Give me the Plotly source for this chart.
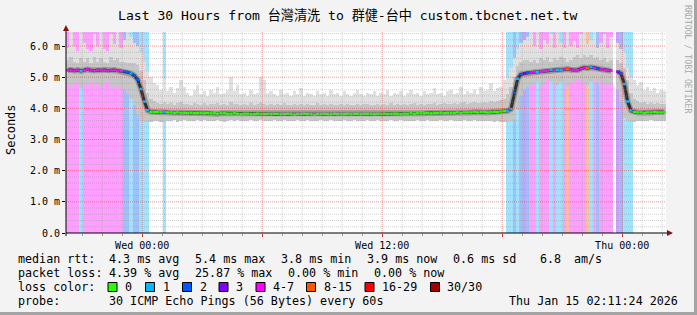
import plotly.graph_objects as go
from datetime import datetime, timedelta

# ---------------- data ----------------
START = datetime(2026, 1, 13, 20, 11, 24)
END = datetime(2026, 1, 15, 2, 11, 24)
STEP_MIN = 10

MED = [
    5.22, 5.24, 5.21, 5.23, 5.20, 5.22, 5.25, 5.22, 5.21, 5.23,
    5.22, 5.24, 5.21, 5.22, 5.23, 5.21, 5.20, 5.19, 5.16, 5.12,
    5.05, 4.92, 4.62, 4.22, 3.94, 3.89, 3.88, 3.88, 3.87, 3.88,
    3.87, 3.87, 3.86, 3.87, 3.86, 3.86, 3.85, 3.86, 3.85, 3.85,
    3.85, 3.84, 3.85, 3.84, 3.84, 3.83, 3.84, 3.84, 3.83, 3.83,
    3.84, 3.83, 3.82, 3.83, 3.83, 3.82, 3.82, 3.83, 3.82, 3.82,
    3.82, 3.81, 3.82, 3.82, 3.81, 3.81, 3.82, 3.81, 3.80, 3.81,
    3.81, 3.82, 3.81, 3.81, 3.80, 3.81, 3.81, 3.82, 3.81, 3.81,
    3.82, 3.81, 3.81, 3.81, 3.82, 3.81, 3.82, 3.82, 3.81, 3.82,
    3.82, 3.82, 3.81, 3.82, 3.82, 3.83, 3.82, 3.82, 3.83, 3.83,
    3.82, 3.83, 3.83, 3.84, 3.83, 3.84, 3.84, 3.84, 3.85, 3.84,
    3.85, 3.85, 3.86, 3.85, 3.86, 3.86, 3.86, 3.87, 3.86, 3.87,
    3.87, 3.87, 3.88, 3.87, 3.88, 3.88, 3.87, 3.88, 3.89, 3.88,
    3.90, 3.91, 3.92, 3.98, 4.50, 4.95, 5.09, 5.12, 5.14, 5.15,
    5.16, 5.17, 5.18, 5.20, 5.21, 5.23, 5.22, 5.24, 5.23, 5.25,
    5.26, 5.24, 5.22, 5.23, 5.27, 5.31, 5.29, 5.32, 5.30, 5.27,
    5.25, 5.24, 5.22, 5.21, None, 5.18, 5.12, 4.78, 4.22, 3.93,
    3.88, 3.87, 3.87, 3.86, 3.87, 3.87, 3.88, 3.87, 3.87, 3.88,
]

LOSS = [
    5, 6, 5, 4, 1, 5, 6, 5, 7, 5,
    6, 5, 4, 5, 6, 5, 5, 2, 2, 1,
    2, 2, 1, 1, 1, 0, 0, 0, 0, 1,
    0, 0, 0, 0, 0, 0, 0, 0, 0, 0,
    0, 0, 0, 0, 0, 0, 0, 0, 0, 0,
    0, 0, 0, 0, 0, 0, 0, 0, 0, 0,
    0, 0, 0, 0, 0, 0, 0, 0, 0, 0,
    0, 0, 0, 0, 0, 0, 0, 0, 0, 0,
    0, 0, 0, 0, 0, 0, 0, 0, 0, 0,
    0, 0, 0, 0, 0, 0, 0, 0, 0, 0,
    0, 0, 0, 0, 0, 0, 0, 0, 0, 0,
    0, 0, 0, 0, 0, 0, 0, 0, 0, 0,
    0, 0, 0, 0, 0, 0, 0, 0, 0, 0,
    0, 0, 1, 1, 2, 1, 2, 3, 2, 5,
    6, 1, 5, 6, 5, 1, 5, 1, 1, 5,
    8, 6, 5, 6, 5, 7, 8, 1, 6, 2,
    5, 6, 5, 5, None, 3, 2, 1, 1, 1,
    0, 0, 0, 0, 0, 0, 0, 0, 0, 0,
]

S_LO = [
    4.80, 4.70, 4.85, 4.80, 4.65, 4.80, 4.75, 4.85, 4.70, 4.80,
    4.65, 4.80, 4.85, 4.70, 4.75, 4.65, 4.70, 4.60, 4.45, 4.30,
    4.10, 3.80, 3.60, 3.55, 3.55, 3.56, 3.58, 3.60, 3.57, 3.55,
    3.60, 3.58, 3.62, 3.57, 3.60, 3.63, 3.59, 3.61, 3.58, 3.62,
    3.60, 3.63, 3.58, 3.61, 3.59, 3.62, 3.60, 3.57, 3.61, 3.63,
    3.59, 3.62, 3.60, 3.58, 3.61, 3.63, 3.60, 3.59, 3.62, 3.60,
    3.58, 3.61, 3.63, 3.60, 3.59, 3.62, 3.61, 3.58, 3.60, 3.63,
    3.61, 3.59, 3.62, 3.60, 3.58, 3.61, 3.63, 3.60, 3.59, 3.62,
    3.60, 3.58, 3.61, 3.63, 3.60, 3.59, 3.62, 3.61, 3.58, 3.60,
    3.63, 3.61, 3.59, 3.62, 3.60, 3.58, 3.61, 3.63, 3.60, 3.59,
    3.62, 3.60, 3.61, 3.58, 3.60, 3.63, 3.61, 3.59, 3.62, 3.60,
    3.58, 3.61, 3.63, 3.60, 3.59, 3.62, 3.61, 3.58, 3.60, 3.63,
    3.61, 3.59, 3.62, 3.60, 3.58, 3.61, 3.60, 3.59, 3.57, 3.58,
    3.56, 3.55, 3.55, 3.58, 3.65, 3.95, 4.40, 4.60, 4.70, 4.75,
    4.80, 4.85, 4.75, 4.80, 4.90, 4.85, 4.80, 4.75, 4.85, 4.80,
    4.70, 4.85, 4.80, 4.90, 4.85, 4.80, 4.75, 4.85, 4.90, 4.80,
    4.85, 4.80, 4.75, 4.80, None, 4.60, 4.20, 3.70, 3.58, 3.55,
    3.57, 3.60, 3.58, 3.61, 3.59, 3.62, 3.60, 3.58, 3.61, 3.60,
]

S_HI = [
    5.55, 5.65, 5.50, 5.45, 5.60, 5.50, 5.60, 5.45, 5.65, 5.50,
    5.60, 5.50, 5.45, 5.65, 5.55, 5.60, 5.50, 5.50, 5.45, 5.45,
    5.45, 5.40, 5.20, 4.90, 4.50, 4.30, 4.22, 4.18, 4.15, 4.20,
    4.14, 4.18, 4.12, 4.16, 4.20, 4.13, 4.15, 4.11, 4.17, 4.14,
    4.12, 4.16, 4.10, 4.15, 4.13, 4.18, 4.11, 4.14, 4.12, 4.19,
    4.13, 4.15, 4.10, 4.14, 4.12, 4.16, 4.11, 4.13, 4.18, 4.14,
    4.12, 4.15, 4.10, 4.13, 4.11, 4.16, 4.12, 4.10, 4.14, 4.12,
    4.15, 4.11, 4.13, 4.10, 4.12, 4.16, 4.11, 4.13, 4.10, 4.14,
    4.12, 4.10, 4.15, 4.11, 4.13, 4.12, 4.10, 4.14, 4.11, 4.13,
    4.15, 4.12, 4.10, 4.13, 4.11, 4.14, 4.12, 4.16, 4.11, 4.13,
    4.12, 4.15, 4.11, 4.13, 4.16, 4.12, 4.14, 4.11, 4.15, 4.13,
    4.16, 4.12, 4.14, 4.17, 4.13, 4.15, 4.18, 4.14, 4.16, 4.19,
    4.15, 4.17, 4.20, 4.16, 4.18, 4.21, 4.17, 4.22, 4.19, 4.24,
    4.26, 4.30, 4.45, 4.70, 5.00, 5.35, 5.50, 5.55, 5.55, 5.50,
    5.55, 5.45, 5.60, 5.55, 5.65, 5.50, 5.60, 5.55, 5.65, 5.60,
    5.50, 5.55, 5.65, 5.70, 5.60, 5.70, 5.65, 5.70, 5.60, 5.65,
    5.55, 5.60, 5.50, 5.55, None, 5.55, 5.45, 5.30, 4.90, 4.50,
    4.30, 4.22, 4.18, 4.20, 4.15, 4.17, 4.14, 4.16, 4.13, 4.15,
]

S_MAX = [
    5.95, 6.45, 6.00, 5.85, 6.45, 6.10, 5.90, 5.85, 6.40, 6.00,
    6.45, 5.90, 5.85, 6.40, 6.05, 6.45, 5.95, 6.20, 6.45, 6.30,
    6.10, 6.00, 5.80, 5.50, 5.20, 5.00, 4.80, 4.75, 4.60, 4.95,
    4.55, 4.70, 4.50, 4.65, 4.90, 4.70, 4.50, 4.40, 4.60, 4.75,
    4.45, 4.55, 4.40, 4.60, 4.50, 4.70, 4.45, 4.50, 4.60, 5.00,
    4.55, 4.75, 4.45, 4.50, 4.40, 4.60, 4.45, 4.50, 5.00, 4.90,
    4.50, 4.55, 4.45, 4.40, 4.60, 4.45, 4.50, 4.40, 4.55, 4.45,
    4.65, 4.40, 4.50, 4.45, 4.40, 4.55, 4.45, 4.50, 4.40, 4.60,
    4.45, 4.50, 4.40, 4.55, 4.45, 4.40, 4.50, 4.60, 4.45, 4.40,
    4.50, 4.45, 4.55, 4.40, 4.50, 4.45, 4.60, 4.40, 4.50, 4.45,
    4.55, 4.40, 4.50, 4.60, 4.45, 4.50, 4.40, 4.55, 4.45, 4.50,
    4.65, 4.45, 4.50, 4.40, 4.55, 4.60, 4.45, 4.50, 4.70, 4.45,
    4.55, 4.50, 4.60, 4.45, 4.70, 4.55, 4.60, 4.80, 4.55, 4.65,
    4.70, 4.90, 5.00, 5.30, 5.60, 5.90, 6.10, 6.20, 6.30, 6.45,
    6.00, 6.45, 5.90, 6.20, 6.05, 6.40, 5.95, 6.45, 6.10, 5.95,
    6.45, 6.00, 6.15, 5.95, 6.40, 6.45, 6.05, 6.20, 6.45, 5.95,
    6.10, 6.40, 5.95, 6.30, None, 6.10, 5.90, 5.80, 5.30, 5.00,
    4.90, 4.75, 4.85, 4.60, 4.70, 4.55, 4.65, 4.50, 4.60, 4.55,
]

LOSS_BINS = [("0", 0, 0, "#26ff00"), ("1", 1, 1, "#00b8ff"), ("2", 2, 2, "#0059ff"),
             ("3", 3, 3, "#7e00ff"), ("4-7", 4, 7, "#ff00ff"), ("8-15", 8, 15, "#ff5500"),
             ("16-29", 16, 29, "#ff0000"), ("30/30", 30, 30, "#a10000")]

Y_MAX = 6.45
Y_TICKS = [0, 1, 2, 3, 4, 5, 6]
Y_TICKTEXT = ["0.0", "1.0 m", "2.0 m", "3.0 m", "4.0 m", "5.0 m", "6.0 m"]
X_TICKS = [datetime(2026, 1, 14, 0), datetime(2026, 1, 14, 6), datetime(2026, 1, 14, 12),
           datetime(2026, 1, 14, 18), datetime(2026, 1, 15, 0)]
X_TICKTEXT = ["Wed 00:00", "", "Wed 12:00", "", "Thu 00:00"]

TITLE = "Last 30 Hours from 台灣清洗 to 群健-台中 custom.tbcnet.net.tw"
RTT_ROW = [("median rtt:", 16), ("4.3 ms avg", 107), ("5.4 ms max", 193), ("3.8 ms min", 279),
           ("3.9 ms now", 365), ("0.6 ms sd", 451), ("6.8", 538), ("am/s", 572)]
LOSS_ROW = [("packet loss:", 16), ("4.39 % avg", 107), ("25.87 % max", 193),
            ("0.00 % min", 286), ("0.00 % now", 372)]
PROBE_TEXT = "30 ICMP Echo Pings (56 Bytes) every 60s"
DATE_TEXT = "Thu Jan 15 02:11:24 2026"

# ---------------- helpers ----------------
FONT = "DejaVu Sans Mono, Noto Sans CJK TC, monospace"
W, H = 697, 315
PL, PR, PT, PB = 66, 666, 32, 233


def px(x):
    return (x - PL) / (PR - PL)


def py(y):
    return (PB - y) / (PB - PT)


def blend(hexc, a):
    r, g, b = int(hexc[1:3], 16), int(hexc[3:5], 16), int(hexc[5:7], 16)
    return "rgb(%d,%d,%d)" % tuple(round(255 * (1 - a) + c * a) for c in (r, g, b))


def bin_of(v):
    for k, (_, lo, hi, _) in enumerate(LOSS_BINS):
        if lo <= v <= hi:
            return k
    return None


step = timedelta(minutes=STEP_MIN)
N = len(MED)
t0 = [START + i * step for i in range(N)]
tc = [START + i * step + step / 2 for i in range(N)]
bw = step.total_seconds() * 1000 * 1.06

fig = go.Figure()

# loss background bars
bx, bc = [], []
for i in range(N):
    if LOSS[i] is not None and LOSS[i] > 0:
        bx.append(tc[i])
        bc.append(blend(LOSS_BINS[bin_of(LOSS[i])][3], 0.38))
fig.add_trace(go.Bar(x=bx, y=[Y_MAX] * len(bx), base=0, width=bw,
                     marker=dict(color=bc, line=dict(width=0)), hoverinfo="skip"))

# smoke
vx = [tc[i] for i in range(N) if S_LO[i] is not None]
lo = [S_LO[i] for i in range(N) if S_LO[i] is not None]
hi = [S_HI[i] for i in range(N) if S_LO[i] is not None]
mx = [S_MAX[i] for i in range(N) if S_LO[i] is not None]
fig.add_trace(go.Bar(x=vx, y=[m - l for m, l in zip(mx, lo)], base=lo, width=bw,
                     marker=dict(color="#e0e0e0", line=dict(width=0)), hoverinfo="skip"))
fig.add_trace(go.Bar(x=vx, y=[h - l for h, l in zip(hi, lo)], base=lo, width=bw,
                     marker=dict(color="#c6c6c6", line=dict(width=0)), hoverinfo="skip"))

# dark core around median
fig.add_trace(go.Scatter(x=tc, y=MED, mode="lines", connectgaps=False,
                         line=dict(color="#9a9a9a", width=6), hoverinfo="skip"))
fig.add_trace(go.Scatter(x=tc, y=MED, mode="lines", connectgaps=False,
                         line=dict(color="#303030", width=3), hoverinfo="skip"))

# median coloured by loss
for k, (_, _, _, col) in enumerate(LOSS_BINS):
    xs, ys = [], []
    for i in range(N):
        if MED[i] is None or LOSS[i] is None or bin_of(LOSS[i]) != k:
            continue
        xs += [t0[i], t0[i] + step, None]
        ys += [MED[i], MED[i], None]
    if xs:
        fig.add_trace(go.Scatter(x=xs, y=ys, mode="lines", line=dict(color=col, width=2.5),
                                 hoverinfo="skip"))

shapes = []
# grid (drawn above, like rrdtool)
h = START.replace(minute=0, second=0) + timedelta(hours=1)
while h < END:
    major = h.hour % 6 == 0
    shapes.append(dict(type="line", layer="above", xref="x", yref="paper", x0=h, x1=h, y0=0, y1=1,
                       line=dict(color="rgba(230,60,60,0.55)" if major else "rgba(150,150,150,0.45)",
                                 width=1, dash="1px,1px")))
    h += timedelta(hours=1)
for k in range(1, int(Y_MAX / 0.2) + 1):
    v = round(k * 0.2, 1)
    major = abs(v - round(v)) < 1e-9
    shapes.append(dict(type="line", layer="above", xref="paper", yref="y", x0=0, x1=1, y0=v, y1=v,
                       line=dict(color="rgba(230,60,60,0.55)" if major else "rgba(150,150,150,0.45)",
                                 width=1, dash="1px,1px")))

# axes with arrows
shapes.append(dict(type="line", layer="above", xref="paper", yref="paper",
                   x0=px(PL), x1=px(668), y0=py(PB), y1=py(PB), line=dict(color="black", width=1)))
shapes.append(dict(type="line", layer="above", xref="paper", yref="paper",
                   x0=px(PL), x1=px(PL), y0=py(PB + 3), y1=py(30), line=dict(color="black", width=1)))
shapes.append(dict(type="path", layer="above", xref="paper", yref="paper",
                   path="M %f,%f L %f,%f L %f,%f Z" % (px(667), py(230), px(673), py(PB), px(667), py(236)),
                   fillcolor="#8b0f0f", line=dict(width=0)))
shapes.append(dict(type="path", layer="above", xref="paper", yref="paper",
                   path="M %f,%f L %f,%f L %f,%f Z" % (px(63), py(31), px(PL), py(25), px(69), py(31)),
                   fillcolor="#8b0f0f", line=dict(width=0)))

# frame
shapes.append(dict(type="rect", xref="paper", yref="paper", x0=px(694), x1=px(W), y0=py(H), y1=py(0),
                   fillcolor="#a4a4a4", line=dict(width=0), layer="above"))
shapes.append(dict(type="rect", xref="paper", yref="paper", x0=px(0), x1=px(W), y0=py(H), y1=py(312),
                   fillcolor="#a4a4a4", line=dict(width=0), layer="above"))

annotations = []


def txt(s, x, y, size=11.7, anchor="left", color="black", angle=0):
    annotations.append(dict(text=s, x=px(x), y=py(y), xref="paper", yref="paper", showarrow=False,
                            xanchor=anchor, yanchor="middle", textangle=angle,
                            font=dict(family=FONT, size=size, color=color)))


txt(TITLE, 348, 15, size=13.1, anchor="center")
txt("Seconds", 11, 130, size=12, anchor="center", angle=-90)
txt("RRDTOOL / TOBI OETIKER", 688, 59, size=8.2, anchor="center", color="#a9a9a9", angle=90)

ROWS_Y = [259, 273, 287, 301]
for s, x in RTT_ROW:
    txt(s, x, ROWS_Y[0])
for s, x in LOSS_ROW:
    txt(s, x, ROWS_Y[1])
txt("loss color:", 16, ROWS_Y[2])
SW_X = [108, 145.5, 182.5, 219, 256, 306.5, 365, 430.5]
for k, (lab, _, _, col) in enumerate(LOSS_BINS):
    sx = SW_X[k]
    shapes.append(dict(type="rect", xref="paper", yref="paper", x0=px(sx), x1=px(sx + 9),
                       y0=py(ROWS_Y[2] + 4.5), y1=py(ROWS_Y[2] - 4.5), fillcolor=col,
                       line=dict(color="black", width=1)))
    txt(lab, sx + 15, ROWS_Y[2])
txt("probe:", 16, ROWS_Y[3])
txt(PROBE_TEXT, 107, ROWS_Y[3])
txt(DATE_TEXT, 680, ROWS_Y[3], anchor="right")

fig.update_layout(
    width=W, height=H, margin=dict(l=PL, r=W - PR, t=PT, b=H - PB),
    paper_bgcolor="#f3f3f3", plot_bgcolor="white", showlegend=False,
    barmode="overlay", bargap=0,
    font=dict(family=FONT, size=10, color="black"),
    shapes=shapes, annotations=annotations,
    xaxis=dict(type="date", range=[START, END], tickmode="array", tickvals=X_TICKS,
               ticktext=X_TICKTEXT, showgrid=False, zeroline=False, showline=False,
               ticks="outside", ticklen=3, tickcolor="#cc3333",
               tickfont=dict(family=FONT, size=10, color="black"),
               minor=dict(dtick=3600000, tick0="2026-01-14 00:00", ticks="outside",
                          ticklen=2, tickcolor="#999999", showgrid=False)),
    yaxis=dict(range=[0, Y_MAX], tickmode="array", tickvals=Y_TICKS, ticktext=Y_TICKTEXT,
               showgrid=False, zeroline=False, showline=False, ticks="outside", ticklen=3,
               tickcolor="black", tickfont=dict(family=FONT, size=10, color="black")),
)

fig.write_html("out.html")
